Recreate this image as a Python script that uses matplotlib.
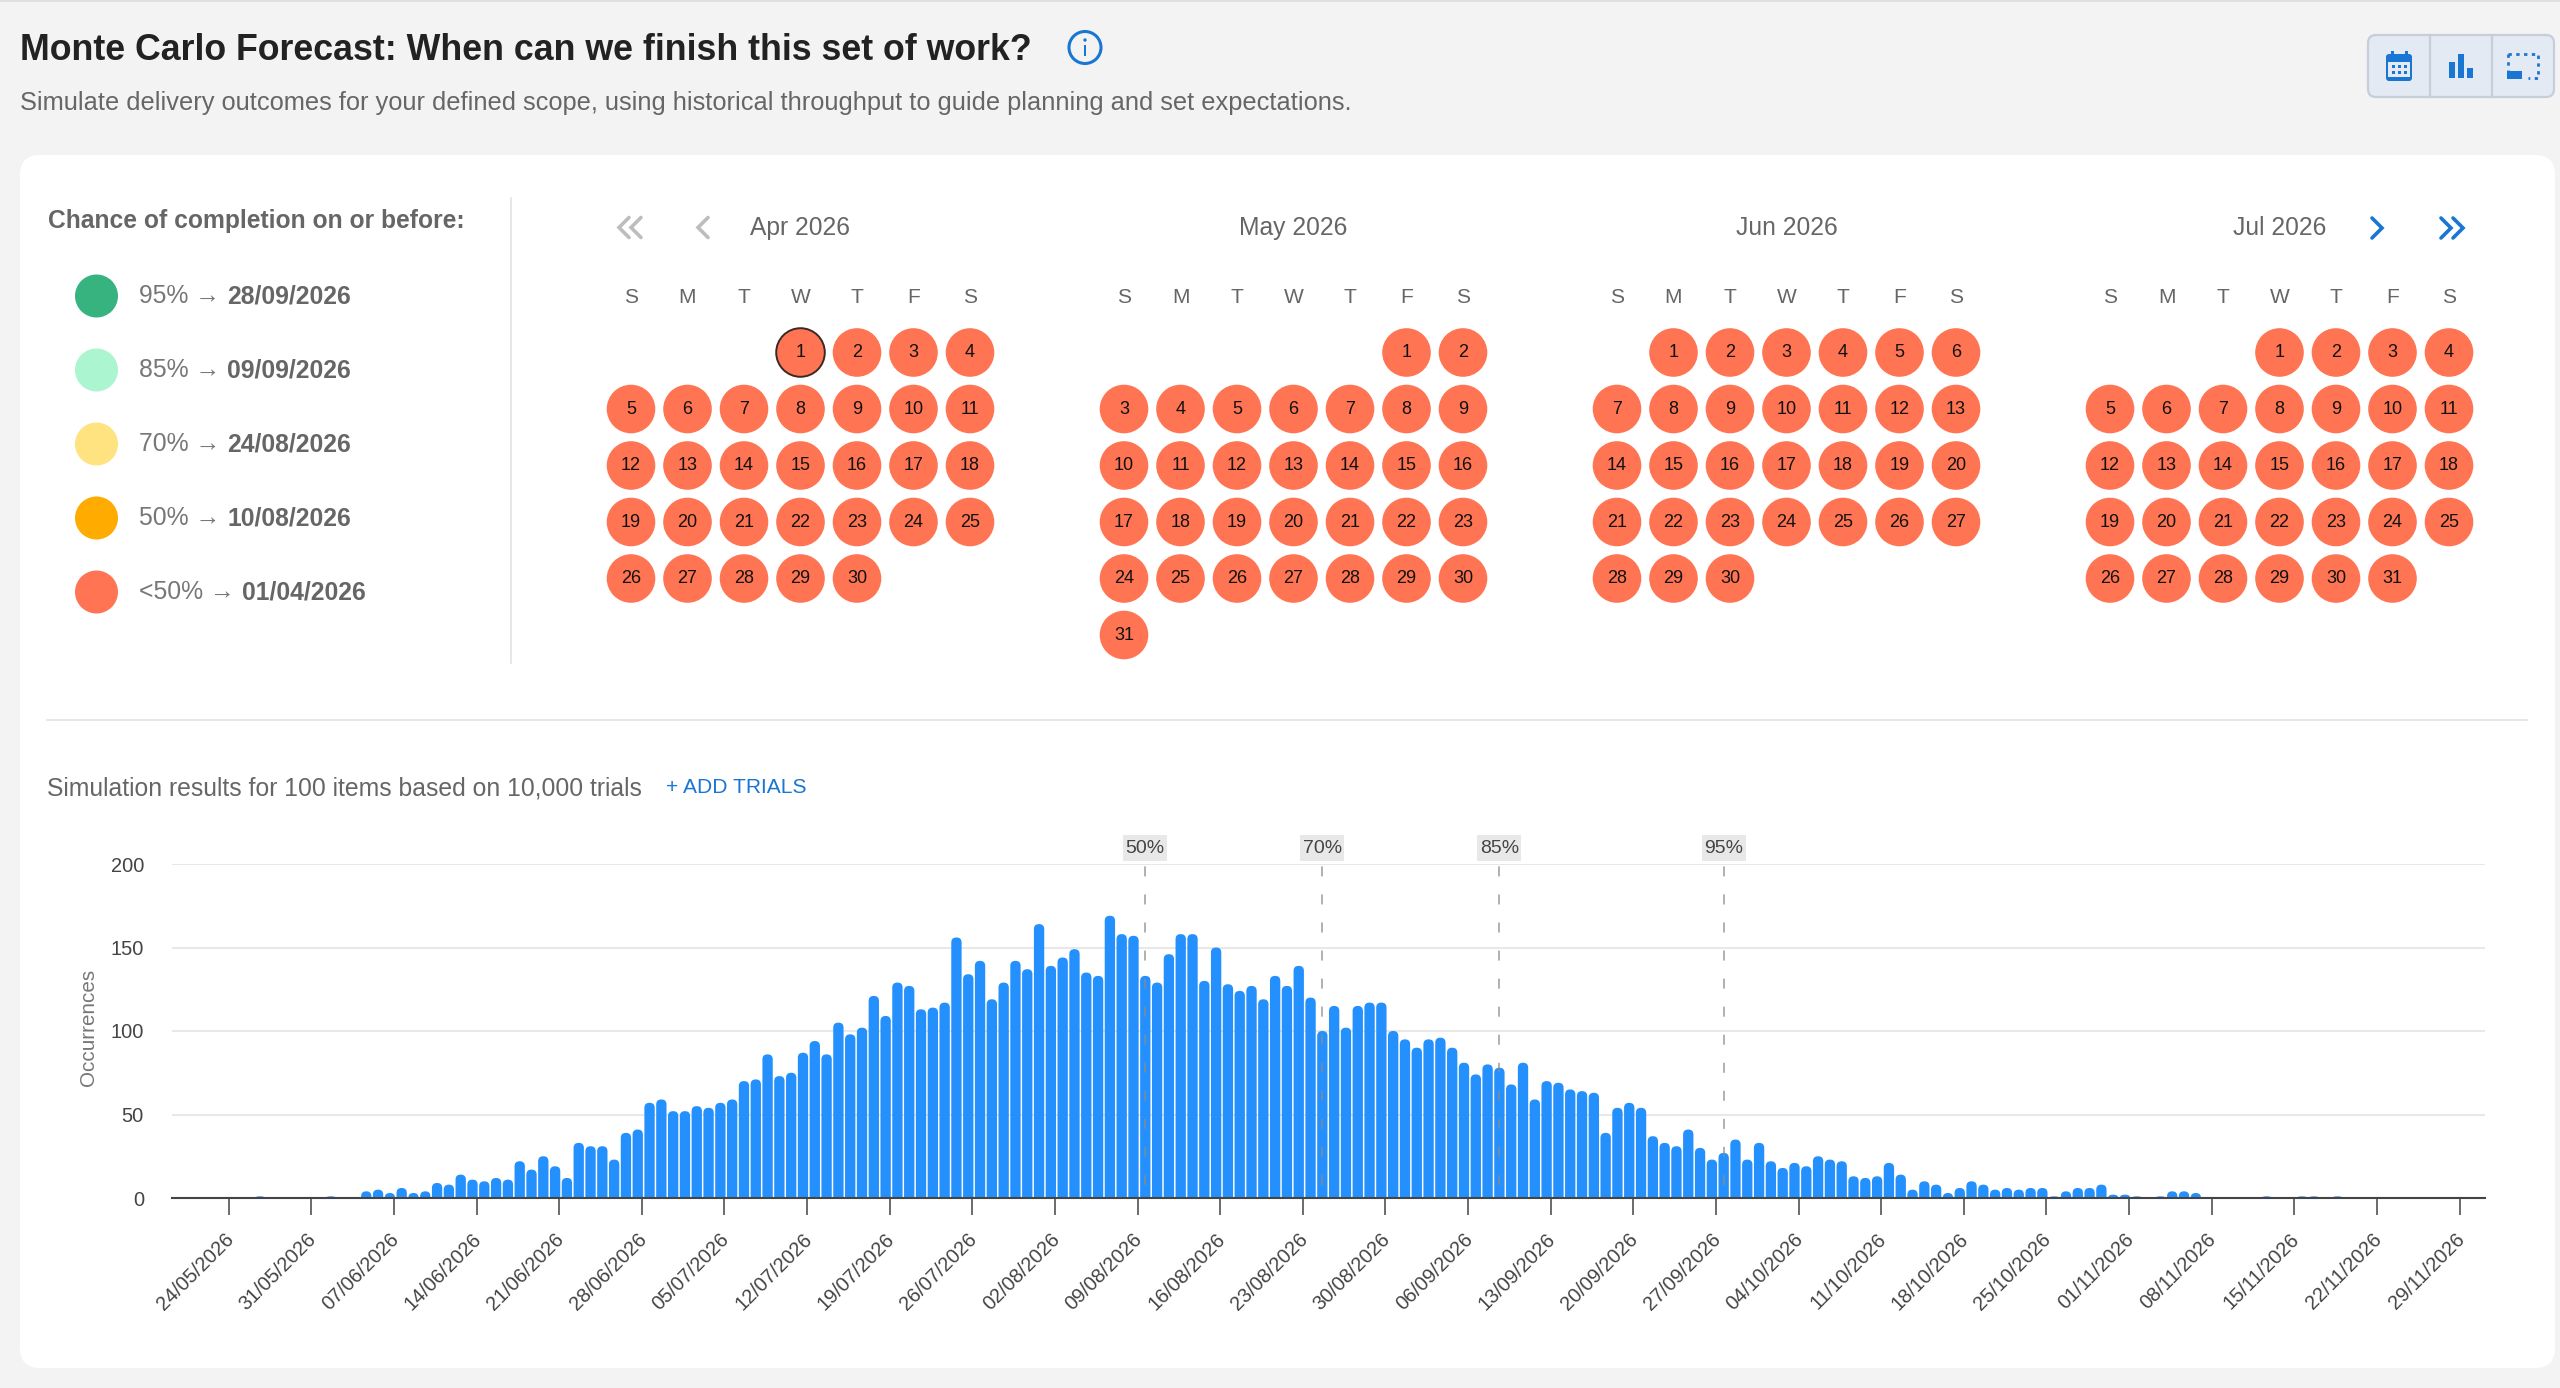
from __future__ import annotations

import matplotlib

matplotlib.use("Agg")

import matplotlib.patches as patches
import matplotlib.pyplot as plt
from matplotlib.path import Path
from matplotlib.transforms import ScaledTranslation

plt.rcParams["font.family"] = ["Liberation Sans", "DejaVu Sans"]

WIDTH = 2560
HEIGHT = 1388

# daily occurrences, first band is 19/05/2026
occurrences = [
    0, 0, 0, 0, 0, 0, 0, 1, 0, 0, 0, 0, 0, 1, 0, 0,
    4, 5, 3, 6, 3, 4, 9, 8, 14, 11, 10, 12, 11, 22, 17, 25, 19, 12, 33, 31, 31, 23, 39, 41, 57, 59, 52,
    52, 55, 54, 57, 59, 70, 71, 86, 73, 75, 87, 94, 86, 105, 98, 102, 121, 109, 129, 127,
    113, 114, 117, 156, 134, 142, 119, 129, 142, 137, 164, 139, 144, 149, 135, 133, 169, 158, 157, 133,
    129, 146, 158, 158, 130, 150, 128, 124, 127, 119, 133,
    127, 139, 120, 100, 115, 102, 115, 117, 117, 100, 95, 90, 95, 96, 90, 81, 74, 80, 78, 68,
    81, 59, 70, 69, 65, 64, 63, 39, 54, 57, 54, 37, 33, 31, 41, 30, 23, 27, 35, 23,
    33, 22, 18, 21, 19, 25, 23, 22, 13, 12, 13,
    21, 14, 5, 10, 8, 3, 6, 10, 8, 5, 6, 5, 6, 6, 1, 4, 6, 6, 8, 2, 2, 1, 0, 1, 4, 4, 3,
    0, 0, 0, 0, 0, 1, 0, 0, 1, 1, 0, 1, 0, 0, 0, 0, 0, 0, 0, 0, 0, 0, 0, 0,
]
first_tick_band = 5
tick_labels = [
    "24/05/2026", "31/05/2026", "07/06/2026", "14/06/2026", "21/06/2026", "28/06/2026",
    "05/07/2026", "12/07/2026", "19/07/2026", "26/07/2026", "02/08/2026", "09/08/2026",
    "16/08/2026", "23/08/2026", "30/08/2026", "06/09/2026", "13/09/2026", "20/09/2026",
    "27/09/2026", "04/10/2026", "11/10/2026", "18/10/2026", "25/10/2026", "01/11/2026",
    "08/11/2026", "15/11/2026", "22/11/2026", "29/11/2026",
]
marker_labels = ["50%", "70%", "85%", "95%"]
marker_bands = [82, 97, 112, 131]

legend_labels = ["95% →", "85% →", "70% →", "50% →", "<50% →"]
legend_dates = ["28/09/2026", "09/09/2026", "24/08/2026", "10/08/2026", "01/04/2026"]
legend_colors = ["#36b37e", "#abf5d1", "#ffe380", "#ffab00", "#ff7452"]

month_names = ["Apr 2026", "May 2026", "Jun 2026", "Jul 2026"]
month_offsets = [3, 5, 1, 3]
month_days = [30, 31, 30, 31]
weekdays = ["S", "M", "T", "W", "T", "F", "S"]

GREY_TEXT = "#666666"
BLUE = "#1976d2"


def px(size: float) -> float:
    return size * 0.72


def rounded_bar(axis: plt.Axes, left: float, width: float, height: float, radius_px: float) -> None:
    # top corners are rounded in pixels, so work out the radius per axis
    x_scale = WIDTH * axis.get_position().width / (axis.get_xlim()[1] - axis.get_xlim()[0])
    y_scale = HEIGHT * axis.get_position().height / (axis.get_ylim()[1] - axis.get_ylim()[0])
    rx = radius_px / x_scale
    ry = min(radius_px / y_scale, height)
    right = left + width
    vertices = [
        (left, 0), (left, height - ry), (left, height), (left + rx, height),
        (right - rx, height), (right, height), (right, height - ry), (right, 0), (left, 0),
    ]
    codes = [
        Path.MOVETO, Path.LINETO, Path.CURVE3, Path.CURVE3,
        Path.LINETO, Path.CURVE3, Path.CURVE3, Path.LINETO, Path.CLOSEPOLY,
    ]
    axis.add_patch(patches.PathPatch(Path(vertices, codes), facecolor="#2490fd", edgecolor="none", zorder=3))


def chevron(axis: plt.Axes, x: float, y: float, direction: int, color: str) -> None:
    axis.plot(
        [x - 5 * direction, x + 5 * direction, x - 5 * direction],
        [y - 10, y, y + 10],
        color=color, linewidth=2.6, solid_capstyle="round", solid_joinstyle="miter",
    )


def draw_page(axis: plt.Axes) -> None:
    axis.add_patch(patches.Rectangle((0, 0), WIDTH, 2, facecolor="#e0e0e0", edgecolor="none"))
    axis.add_patch(
        patches.FancyBboxPatch(
            (40, 175), 2495, 1173,
            boxstyle="round,pad=20,rounding_size=20",
            facecolor="white", edgecolor="none",
        )
    )
    axis.text(20, 50, "Monte Carlo Forecast: When can we finish this set of work?",
              fontsize=px(35.8), fontweight="bold", color="#222222", va="center")
    axis.text(20, 103, "Simulate delivery outcomes for your defined scope, using historical throughput to guide planning and set expectations.",
              fontsize=px(25.4), color="#666666", va="center")

    # info icon
    axis.add_patch(patches.Circle((1085, 47.5), 16, facecolor="none", edgecolor=BLUE, linewidth=2.2))
    axis.add_patch(patches.Rectangle((1083.8, 45), 2.4, 11, facecolor=BLUE, edgecolor="none"))
    axis.add_patch(patches.Circle((1085, 40), 1.7, facecolor=BLUE, edgecolor="none"))

    draw_toolbar(axis)

    axis.plot([511, 511], [198, 663], color="#e3e3e3", linewidth=1.2)
    axis.plot([47, 2527], [720, 720], color="#e3e3e3", linewidth=1.2)


def draw_toolbar(axis: plt.Axes) -> None:
    axis.add_patch(
        patches.FancyBboxPatch(
            (2376, 43), 170, 46,
            boxstyle="round,pad=8,rounding_size=8",
            facecolor="#e3eaf3", edgecolor="#c6ced8", linewidth=1.6,
        )
    )
    for x in (2430, 2492):
        axis.plot([x, x], [35, 97], color="#c6ced8", linewidth=1.6)

    # calendar icon
    axis.add_patch(patches.FancyBboxPatch((2388, 56), 22, 23, boxstyle="round,pad=2,rounding_size=3",
                                          facecolor=BLUE, edgecolor="none"))
    axis.add_patch(patches.Rectangle((2388, 62), 22, 15, facecolor="#e3eaf3", edgecolor="none"))
    for x in (2392, 2398, 2404):
        for y in (65, 71):
            axis.add_patch(patches.Rectangle((x, y), 3, 3, facecolor=BLUE, edgecolor="none"))
    for x in (2391, 2405):
        axis.add_patch(patches.Rectangle((x, 51), 3, 5, facecolor=BLUE, edgecolor="none"))

    # bars icon
    for x, top in ((2449, 62), (2458, 54), (2467, 68)):
        axis.add_patch(patches.Rectangle((x, top), 6, 78 - top, facecolor=BLUE, edgecolor="none"))

    # dotted selection icon
    axis.plot([2508, 2538, 2538, 2528], [54, 54, 78, 78], color=BLUE, linewidth=2, linestyle=(0, (1.2, 1.6)))
    axis.plot([2508, 2508], [54, 70], color=BLUE, linewidth=2, linestyle=(0, (1.2, 1.6)))
    axis.add_patch(patches.Rectangle((2507, 71), 15, 8, facecolor=BLUE, edgecolor="none"))


def draw_legend(figure: plt.Figure, axis: plt.Axes) -> None:
    axis.text(48, 221, "Chance of completion on or before:", fontsize=px(24.6), fontweight="bold",
              color=GREY_TEXT, va="center")
    renderer = figure.canvas.get_renderer()
    for index, (label, date, color) in enumerate(zip(legend_labels, legend_dates, legend_colors)):
        y = 296 + index * 74
        axis.add_patch(patches.Circle((96.5, y), 21.5, facecolor=color, edgecolor="none"))
        text = axis.text(139, y, label, fontsize=px(24.8), color="#777777", va="center")
        end = text.get_window_extent(renderer).x1
        axis.text(end + 7, y, date, fontsize=px(24.8), fontweight="bold", color=GREY_TEXT, va="center")


def draw_calendars(axis: plt.Axes) -> None:
    step = 56.5
    for month, (name, offset, days) in enumerate(zip(month_names, month_offsets, month_days)):
        left = 631 + month * 493
        axis.text(left + 3 * step, 227.5, name, fontsize=px(24.6), color=GREY_TEXT, ha="center", va="center")
        for column, weekday in enumerate(weekdays):
            axis.text(left + column * step, 297, weekday, fontsize=px(21), color=GREY_TEXT, ha="center", va="center")
        for day in range(1, days + 1):
            cell = offset + day - 1
            x = left + (cell % 7) * step
            y = 352.5 + (cell // 7) * 56.5
            outlined = month == 0 and day == 1
            axis.add_patch(
                patches.Circle(
                    (x, y), 24.3,
                    facecolor=legend_colors[-1],
                    edgecolor="#3a2a26" if outlined else "none",
                    linewidth=1.4,
                )
            )
            axis.text(x, y, str(day), fontsize=px(18), color="#111111", ha="center", va="center")

    chevron(axis, 624, 227.5, -1, "#bdbdbd")
    chevron(axis, 636, 227.5, -1, "#bdbdbd")
    chevron(axis, 703, 227.5, -1, "#bdbdbd")
    chevron(axis, 2377, 228, 1, BLUE)
    chevron(axis, 2446, 228, 1, BLUE)
    chevron(axis, 2458, 228, 1, BLUE)


def draw_results_header(axis: plt.Axes) -> None:
    axis.text(47, 788, "Simulation results for 100 items based on 10,000 trials",
              fontsize=px(24.8), color=GREY_TEXT, va="center")
    axis.text(666, 787, "+ ADD TRIALS", fontsize=px(21), color=BLUE, va="center")


def draw_histogram(figure: plt.Figure, page: plt.Axes) -> None:
    left, right, top, bottom = 171.5, 2485, 864, 1198
    axis = figure.add_axes(
        (left / WIDTH, 1 - bottom / HEIGHT, (right - left) / WIDTH, (bottom - top) / HEIGHT),
        facecolor="none",
    )
    axis.set_xlim(0, len(occurrences))
    axis.set_ylim(0, 200)

    bar_width = 0.875
    for band, value in enumerate(occurrences):
        if value > 0:
            rounded_bar(axis, band + 0.5 - bar_width / 2, bar_width, value, 5)

    axis.set_yticks([0, 50, 100, 150, 200])
    axis.tick_params(axis="y", length=0, pad=19.8, labelsize=px(20), labelcolor="#444444")
    axis.grid(True, axis="y", color="#e8e8e8", linewidth=1.5, zorder=0)
    axis.set_axisbelow(True)
    axis.set_ylabel("Occurrences", fontsize=px(20.6), color="#777777", labelpad=0)
    axis.yaxis.set_label_coords((98 - left) / (right - left), 0.51)

    # the ticks sit a touch left of the band edge in the reference
    ticks = [first_tick_band - 0.15 + 7 * index for index in range(len(tick_labels))]
    axis.set_xticks(ticks)
    axis.set_xticklabels(tick_labels, rotation=45, ha="right", rotation_mode="anchor")
    axis.tick_params(axis="x", length=12.5, width=1.1, color="#444444", pad=10.6,
                     labelsize=px(20), labelcolor="#444444")
    for label in axis.get_xticklabels():
        label.set_transform(label.get_transform() + ScaledTranslation(-0.05, 0, figure.dpi_scale_trans))

    for side in ("top", "right", "left"):
        axis.spines[side].set_visible(False)
    axis.spines["bottom"].set_color("#444444")
    axis.spines["bottom"].set_linewidth(1.5)
    axis.spines["bottom"].set_zorder(5)

    line_width = 1.1
    for label, band in zip(marker_labels, marker_bands):
        axis.plot(
            [band + 0.5, band + 0.5], [8, 200],
            color="#8a8a8a", alpha=0.85, linewidth=line_width, zorder=4,
            linestyle=(0, (7.2 / line_width, 13 / line_width)), dash_capstyle="butt",
        )
        axis.annotate(
            label, xy=(band + 0.5, 200), xytext=(0, 11.2), textcoords="offset points",
            ha="center", va="center", fontsize=px(19.5), color="#444444", annotation_clip=False,
        )
        center = axis.transData.transform((band + 0.5, 200))[0]
        page.add_patch(
            patches.Rectangle((center - 22, 834.5), 44, 26, facecolor="#e8e8e8", edgecolor="none")
        )


def main() -> None:
    figure = plt.figure(figsize=(WIDTH / 100, HEIGHT / 100), dpi=100, facecolor="#f3f3f3")
    page = figure.add_axes((0, 0, 1, 1))
    page.set_xlim(0, WIDTH)
    page.set_ylim(HEIGHT, 0)
    page.axis("off")

    draw_page(page)
    draw_legend(figure, page)
    draw_calendars(page)
    draw_results_header(page)
    draw_histogram(figure, page)

    figure.savefig("out.png", dpi=100, facecolor=figure.get_facecolor())
    plt.close(figure)


if __name__ == "__main__":
    main()
